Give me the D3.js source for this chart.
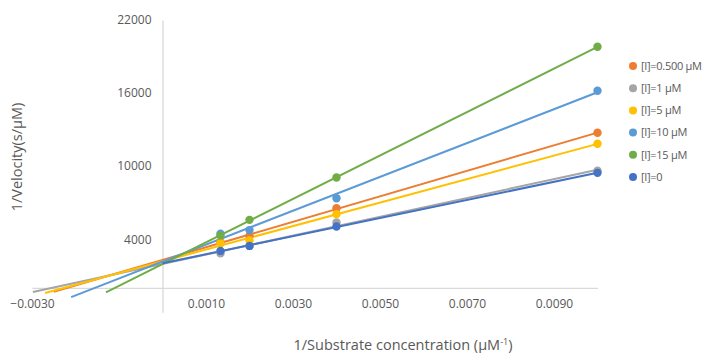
<!DOCTYPE html>
<html lang="en">
<head>
<meta charset="utf-8" />
<title>Lineweaver-Burk plot</title>
<style>
  body { margin:0; background:#fff; font-family:"Open Sans",sans-serif; }
  svg  { display:block; }
  .tick text { fill:#595959; font-size:12px; }
  .title     { fill:#595959; font-size:14.5px; }
  .legend    { fill:#595959; font-size:11px; letter-spacing:-0.3px; }
</style>
</head>
<body>
<svg width="704" height="353"></svg>
<script src="https://cdn.jsdelivr.net/npm/d3@7"></script>
<script>
/* ---------- DATA ---------- */
const invSubstrate = [0.001333, 0.002, 0.004, 0.01];
const seriesNames  = ["[I]=0.500 µM", "[I]=1 µM", "[I]=5 µM", "[I]=10 µM", "[I]=15 µM", "[I]=0"];
const seriesColors = ["#ED7D31", "#A5A5A5", "#FFC000", "#5B9BD5", "#70AD47", "#4472C4"];
const invVelocity  = [
  [3750, 4270, 6550, 12740],   // 0.5 µM
  [2850, 3450, 5370,  9620],   // 1 µM
  [3670, 3890, 6060, 11840],   // 5 µM
  [4450, 4750, 7370, 16190],   // 10 µM
  [4300, 5590, 9065, 19800],   // 15 µM
  [3040, 3450, 5040,  9450]    // 0
];
// how far back each trendline is forecast (x where it starts)
const trendStart   = [-0.0025, -0.00298, -0.0027, -0.0021, -0.0013, 0];
const xTicks = [-0.003, 0.001, 0.003, 0.005, 0.007, 0.009];
const yTicks = [4000, 10000, 16000, 22000];

/* ---------- SCALES ---------- */
const svg = d3.select("svg");
const x = d3.scaleLinear().domain([-0.003, 0.01]).range([32, 597.5]);
const y = d3.scaleLinear().domain([-2000, 22000]).range([312.3, 20]);

/* ---------- AXES ---------- */
const xAxis = svg.append("g").attr("transform", `translate(0,${y(0)})`)
  .call(d3.axisBottom(x).tickValues(xTicks).tickFormat(d3.format(".4f")).tickSize(0).tickPadding(12));
xAxis.select(".domain").attr("stroke", "#D9D9D9").attr("stroke-width", 1.3);
xAxis.selectAll("text").attr("dy", "0.71em");

const yAxis = svg.append("g").attr("transform", `translate(${x(0)},0)`)
  .call(d3.axisLeft(y).tickValues(yTicks).tickFormat(d3.format("d")).tickSize(0).tickPadding(11));
yAxis.select(".domain").attr("stroke", "#D9D9D9").attr("stroke-width", 1.3);
svg.selectAll(".tick text").attr("font-family", "Open Sans");

/* ---------- TRENDLINES (least squares) ---------- */
function fit(xs, ys) {
  const mx = d3.mean(xs), my = d3.mean(ys);
  const sxy = d3.sum(xs, (v, i) => (v - mx) * (ys[i] - my));
  const sxx = d3.sum(xs, v => (v - mx) ** 2);
  const b = sxy / sxx;
  return { b, a: my - b * mx };
}

const series = seriesNames.map((name, i) => ({
  name, color: seriesColors[i], start: trendStart[i],
  pts: invSubstrate.map((s, j) => ({ x: s, y: invVelocity[i][j] })),
  fit: fit(invSubstrate, invVelocity[i])
}));

svg.append("g").selectAll("line")
  .data(series)
  .join("line")
    .attr("x1", d => x(d.start)).attr("y1", d => y(d.fit.a + d.fit.b * d.start))
    .attr("x2", x(0.01)).attr("y2", d => y(d.fit.a + d.fit.b * 0.01))
    .attr("stroke", d => d.color).attr("stroke-width", 2);

/* ---------- POINTS ---------- */
svg.append("g").selectAll("g")
  .data(series)
  .join("g")
    .attr("fill", d => d.color)
  .selectAll("circle")
  .data(d => d.pts)
  .join("circle")
    .attr("cx", d => x(d.x)).attr("cy", d => y(d.y)).attr("r", 4.2);

/* ---------- TITLES ---------- */
svg.append("text").attr("class", "title")
  .attr("transform", "translate(22,157) rotate(-90)")
  .attr("text-anchor", "middle").text("1/Velocity(s/µM)");

const xt = svg.append("text").attr("class", "title")
  .attr("x", 403).attr("y", 350).attr("text-anchor", "middle");
xt.append("tspan").text("1/Substrate concentration (µM");
xt.append("tspan").attr("font-size", "9px").attr("dy", -5).text("-1");
xt.append("tspan").attr("dy", 5).text(")");

/* ---------- LEGEND ---------- */
const lg = svg.append("g").selectAll("g")
  .data(series)
  .join("g")
    .attr("transform", (d, i) => `translate(633,${66 + i * 22.2})`);
lg.append("circle").attr("r", 4).attr("fill", d => d.color);
lg.append("text").attr("class", "legend").attr("x", 8).attr("dy", "0.35em").text(d => d.name);
</script>
</body>
</html>
